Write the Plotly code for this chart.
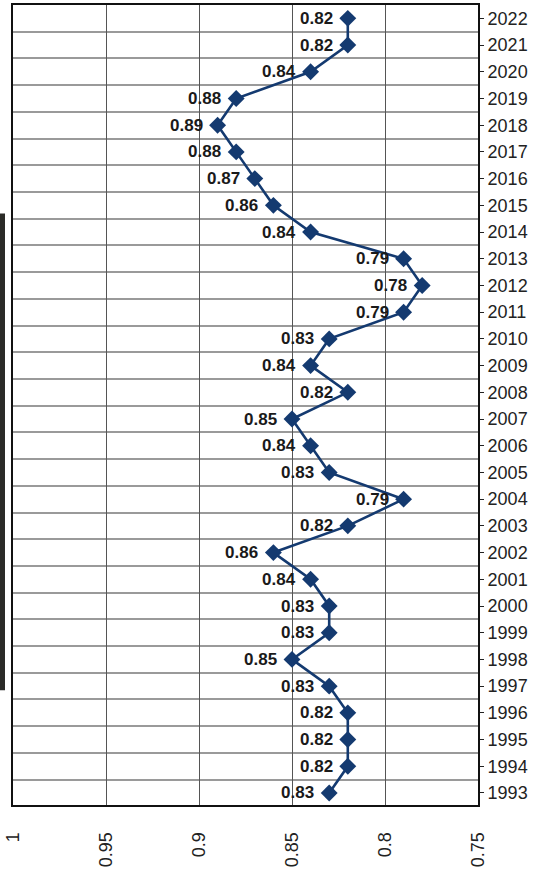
import plotly.graph_objects as go

years = list(range(1993, 2023))
values = [0.83, 0.82, 0.82, 0.82, 0.83, 0.85, 0.83, 0.83, 0.84, 0.86,
          0.82, 0.79, 0.83, 0.84, 0.85, 0.82, 0.84, 0.83, 0.79, 0.78,
          0.79, 0.84, 0.86, 0.87, 0.88, 0.89, 0.88, 0.84, 0.82, 0.82]
value_ticks = [1.0, 0.95, 0.9, 0.85, 0.8, 0.75]
value_tick_text = ["1", "0.95", "0.9", "0.85", "0.8", "0.75"]

W, H = 556, 888
L, R, T, B = 13, 78, 3, 83

navy = "#143a70"

fig = go.Figure()
fig.add_trace(go.Scatter(
    x=values, y=years,
    mode="lines+markers",
    line=dict(color=navy, width=2.6),
    marker=dict(symbol="diamond", size=13, color=navy),
    showlegend=False,
))

# value labels to the left of each point
labels = [
    dict(x=v, y=y, xref="x", yref="y", text=f"<b>{v:.2f}</b>",
         showarrow=False, xanchor="right", yanchor="middle", xshift=-13,
         font=dict(family="Liberation Sans", size=17, color="#1a1a1a"))
    for v, y in zip(values, years)
]

fig.update_layout(
    width=W, height=H,
    margin=dict(l=L, r=R, t=T, b=B),
    paper_bgcolor="white",
    plot_bgcolor="white",
    font=dict(family="Liberation Sans", size=18, color="#222"),
    annotations=labels,
    xaxis=dict(
        range=[1.0, 0.75],
        tickvals=value_ticks,
        ticktext=value_tick_text,
        tickangle=-90,
        tickfont=dict(size=18),
        showgrid=True,
        gridcolor="#555",
        gridwidth=1.2,
        zeroline=False,
        showline=True,
        linecolor="#111",
        linewidth=2,
        mirror=True,
        ticks="",
        ticklabelstandoff=18,
    ),
    yaxis=dict(
        range=[1992.55, 2022.5],
        side="right",
        tickvals=years,
        ticktext=[str(y) for y in years],
        tickfont=dict(size=18),
        ticks="outside",
        ticklen=4,
        tickcolor="#222",
        showgrid=False,
        minor=dict(
            tickvals=[y + 0.5 for y in years[:-1]],
            showgrid=True,
            gridcolor="#9a9a9a",
            gridwidth=1.5,
            ticks="",
        ),
        zeroline=False,
        showline=True,
        linecolor="#111",
        linewidth=2,
        mirror=True,
    ),
    shapes=[
        dict(type="rect", xref="paper", yref="paper",
             x0=-13 / (W - L - R), x1=-8 / (W - L - R),
             y0=1 - (690 - T) / (H - T - B), y1=1 - (212 - T) / (H - T - B),
             fillcolor="#2b2b28", line=dict(width=0)),
    ],
)

fig.write_html("out.html")
